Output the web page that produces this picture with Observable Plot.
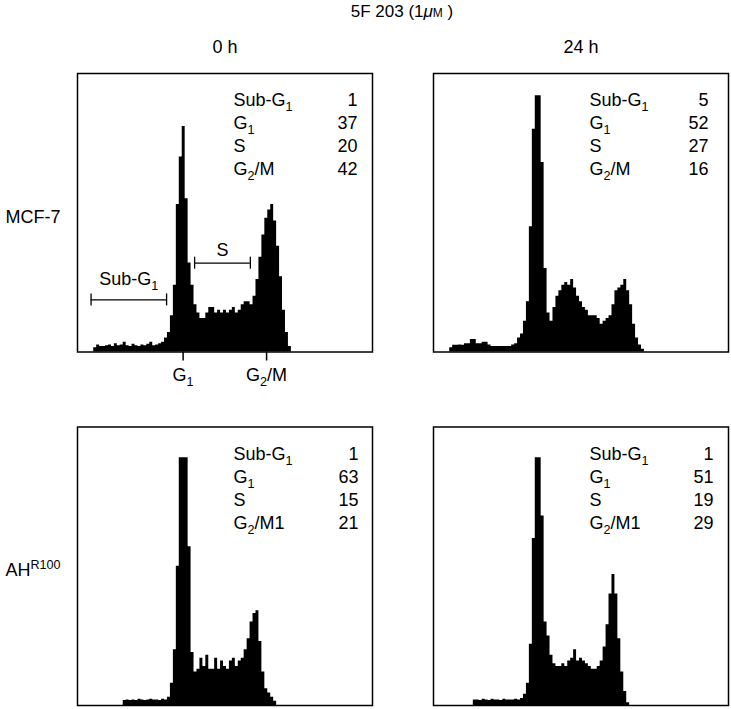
<!DOCTYPE html>
<html><head><meta charset="utf-8">
<script src="https://cdn.jsdelivr.net/npm/d3@7"></script>
<script src="https://cdn.jsdelivr.net/npm/@observablehq/plot@0.6"></script>
<style>
body{margin:0;background:#fff;}
#wrap{position:relative;width:731px;height:709px;font-family:"Liberation Sans",Arial,sans-serif;}
#title{position:absolute;left:402px;top:2px;transform:translateX(-50%);font-size:17px;line-height:20px;white-space:nowrap;color:#000;}
</style></head><body>
<div id="wrap"><div id="title"></div></div>
<script>
// ---- data ----
const titleText = ["5F 203 (1", "μ", "M", " )"];
const times = ["0 h", "24 h"];
const cells = ["MCF-7", "AHR100"];
const cellLabels = ["MCF-7", "AH^{R100}"];

// DNA-content histograms (relative counts per channel, channel 0..100)
const mcf7_0h = [0,0,0,0,0,0,1.5,2.5,2,2,2.2,2.5,2,3,2.2,2.5,3.5,2.2,2,2.8,2.2,2,2.5,2.2,2.8,3.5,2.2,2.5,3,3.5,
  5,7,13,24,53,70,81,55,32,24,17,14,12,12,14,16,16,14,15,14,15,14,15,16,14,15,17,18,18,17,
  20,26,34,42,48,51,53,47,38,27,15,7,2,0];
const mcf7_24h = [0,0,0,0,0,0,1.5,2.4,2.4,2.5,2.4,3,3,4.5,4.5,3,3,3.5,3.5,2.5,2,2,2,2,2,2,2,2.5,3,5,
  6.5,11,18,45,80,92,92,68,30,14,11,16,20,22,24,25,24,26,23,20,18,16,15,13,13,13,12,10,11,12,
  13,17,22,23,24,26,22,17,10,5,2.5,1,0];
const ahr_0h = [0,0,0,0,0,0,0,0,0,0,0,0,0,0,0,0,1.8,2,1.8,2,1.8,2.2,2,1.8,2,2.2,2,2,1.8,2.2,
  2,3,8,20,50,89,89,89,57,19,12,13,17,14,18,13,13,17,13,16,14,13,16,17,14,16,17,20,24,30,
  33,34,23,12,6,4.5,3,1.5,0];
const ahr_24h = [0,0,0,0,0,0,0,0,0,0,0,0,0,0,2,2,1.8,2.2,2,1.8,2.2,2,2,1.8,2.2,2,2,2,2.2,2,
  2.5,4,8,22,60,89,89,68,30,25,18,15,14,14,15,14,16,17,20,16,17,16,15,14,13,13,14,16,21,29,
  40,47,40,24,12,5,1,0];

const phaseLabels = ["Sub-G_{1}", "G_{1}", "S", "G_{2}/M"];
const phaseLabelsAhr = ["Sub-G_{1}", "G_{1}", "S", "G_{2}/M1"];
const mcf7_0h_pct = [1, 37, 20, 42];
const mcf7_24h_pct = [5, 52, 27, 16];
const ahr_0h_pct = [1, 63, 15, 21];
const ahr_24h_pct = [1, 51, 19, 29];

// gates drawn on MCF-7 0 h (channel range, level)
const gateNames = ["Sub-G_{1}", "S"];
const gateFrom = [4.6, 39.7];
const gateTo = [30.2, 58.6];
const gateLevel = [18.7, 31.9];

// peak markers under MCF-7 0 h
const markerNames = ["G_{1}", "G_{2}/M"];
const markerChannels = [35.8, 64.1];

// ---- tables ----
const panels = [
  {cell: "MCF-7", time: "0 h", counts: mcf7_0h, pct: mcf7_0h_pct, labels: phaseLabels},
  {cell: "MCF-7", time: "24 h", counts: mcf7_24h, pct: mcf7_24h_pct, labels: phaseLabels},
  {cell: "AHR100", time: "0 h", counts: ahr_0h, pct: ahr_0h_pct, labels: phaseLabelsAhr},
  {cell: "AHR100", time: "24 h", counts: ahr_24h, pct: ahr_24h_pct, labels: phaseLabelsAhr}
];
const histRows = panels.flatMap(p => p.counts.map((v, c) => ({cell: p.cell, time: p.time, channel: c, count: v})));
const statRows = panels.flatMap(p => p.pct.map((v, i) => ({cell: p.cell, time: p.time, i, label: p.labels[i], value: String(v)})));
const gates = gateNames.map((n, i) => ({cell: "MCF-7", time: "0 h", name: n, from: gateFrom[i], to: gateTo[i], level: gateLevel[i]}));
const gateEnds = gates.flatMap(g => [{...g, x: g.from}, {...g, x: g.to}]);
const markers = markerNames.map((n, i) => ({cell: "MCF-7", time: "0 h", name: n, channel: markerChannels[i]}));
const rowLabels = cells.map((c, i) => ({cell: c, time: "0 h", label: cellLabels[i]}));

const valueInset = {"MCF-7|0 h": 15, "MCF-7|24 h": 20, "AHR100|0 h": 14, "AHR100|24 h": 15};

// ---- title ----
const t = document.getElementById("title");
t.append(titleText[0]);
const mu = document.createElement("i"); mu.textContent = titleText[1]; t.append(mu);
const um = document.createElement("span"); um.textContent = titleText[2]; um.style.fontSize = "12px"; t.append(um);
t.append(titleText[3]);

// ---- plot ----
const marks = [
  Plot.areaY(histRows, {x: "channel", y: "count", fx: "time", fy: "cell", curve: "step", fill: "black"}),
  Plot.frame({stroke: "black", strokeWidth: 1.5}),
  Plot.text(rowLabels, {fx: "time", fy: "cell", text: "label", frameAnchor: "left", dx: -72, dy: 4, textAnchor: "start", lineAnchor: "middle"}),
  Plot.ruleY(gates, {fx: "time", fy: "cell", y: "level", x1: "from", x2: "to", stroke: "black", strokeWidth: 1.3}),
  Plot.ruleX(gateEnds, {fx: "time", fy: "cell", x: "x", y1: "level", y2: "level", insetTop: -6, insetBottom: -6, stroke: "black", strokeWidth: 1.3}),
  Plot.text(gates.filter(g => g.name !== "S"), {fx: "time", fy: "cell", x: d => (d.from + d.to) / 2, y: "level", text: "name", dy: -21, lineAnchor: "middle"}),
  Plot.text(gates.filter(g => g.name === "S"), {fx: "time", fy: "cell", x: d => (d.from + d.to) / 2, y: "level", text: "name", dy: -13, lineAnchor: "middle"}),
  Plot.ruleX(markers, {fx: "time", fy: "cell", x: "channel", y1: 0, y2: 0, insetTop: 9, stroke: "black", strokeWidth: 1.5}),
  Plot.text(markers, {fx: "time", fy: "cell", x: "channel", text: "name", frameAnchor: "bottom", dy: 23, lineAnchor: "middle"})
];
for (let i = 0; i < 4; i++) {
  marks.push(Plot.text(statRows.filter(d => d.i === i), {fx: "time", fy: "cell", text: "label", frameAnchor: "top-left", dx: 156, dy: 27 + 23 * i, textAnchor: "start", lineAnchor: "middle"}));
  for (const p of panels) {
    marks.push(Plot.text(statRows.filter(d => d.i === i && d.cell === p.cell && d.time === p.time), {fx: "time", fy: "cell", text: "value", frameAnchor: "top-right", dx: -valueInset[p.cell + "|" + p.time], dy: 27 + 23 * i, textAnchor: "end", lineAnchor: "middle"}));
  }
}

const plot = Plot.plot({
  width: 731, height: 709,
  marginLeft: 77, marginRight: 3, marginTop: 73, marginBottom: 4,
  style: {fontFamily: '"Liberation Sans", Arial, sans-serif', fontSize: "18px", background: "white", color: "black", overflow: "visible"},
  fx: {domain: times, axis: "top", label: null, tickSize: 0, tickPadding: 21, paddingInner: 61 / 356, paddingOuter: 0, round: false},
  fy: {domain: cells, axis: null, paddingInner: 75 / 353.5, paddingOuter: 0, round: false},
  x: {domain: [0, 100], axis: null},
  y: {domain: [0, 100], axis: null},
  marks
});
document.getElementById("wrap").appendChild(plot);

// rich text: _{sub} and ^{sup}
d3.select(plot).selectAll("text").each(function () {
  const s = this.textContent;
  if (!/[_^]\{/.test(s)) return;
  const fs = parseFloat(getComputedStyle(this).fontSize) || 18;
  const re = /([_^])\{([^}]*)\}/g;
  const parts = []; let last = 0, m;
  while ((m = re.exec(s))) {
    if (m.index > last) parts.push({t: s.slice(last, m.index), k: ""});
    parts.push({t: m[2], k: m[1]}); last = re.lastIndex;
  }
  if (last < s.length) parts.push({t: s.slice(last), k: ""});
  this.textContent = "";
  let cur = 0;
  for (const p of parts) {
    const target = p.k === "_" ? 0.28 * fs : p.k === "^" ? -0.4 * fs : 0;
    const ts = d3.select(this).append("tspan").text(p.t);
    if (target !== cur) ts.attr("dy", target - cur);
    if (p.k) ts.attr("font-size", 0.7 * fs);
    cur = target;
  }
});
</script></body></html>
